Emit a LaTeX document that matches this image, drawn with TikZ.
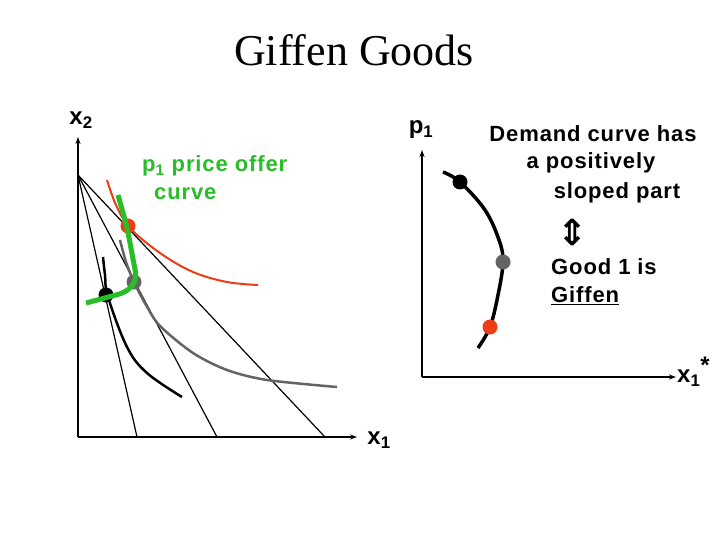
\documentclass[tikz,border=0pt]{standalone}
\usepackage{fontspec}
\setmainfont{Liberation Serif}
\setsansfont{Liberation Sans}[LetterSpace=4]
\newfontfamily\symfont{DejaVu Sans}
\usetikzlibrary{arrows.meta}
\definecolor{myred}{RGB}{240,60,20}
\definecolor{mygray}{RGB}{100,100,100}
\definecolor{mygreen}{RGB}{40,190,40}
\tikzset{
  axis/.style={line width=1.6pt,-{Stealth[length=7pt,width=5pt]}},
  budget/.style={line width=1.2pt,black},
  lbl/.style={font=\sffamily\bfseries\fontsize{22}{24}\selectfont,inner sep=0pt},
  axlbl/.style={lbl,font=\sffamily\bfseries\fontsize{24}{26}\selectfont},
  dot/.style={circle,inner sep=0pt,minimum size=15pt}
}
\begin{document}
\begin{tikzpicture}[x=1pt,y=-1pt]
\useasboundingbox (0,0) rectangle (720,540);
\fill[white] (0,0) rectangle (720,540);
% title
\node[font=\fontsize{44}{48}\selectfont,inner sep=0pt] (title) at (354,50) {Giffen Goods};
% left axes
\coordinate (o1) at (78,437);
\coordinate (y1) at (78,137);
\coordinate (x1) at (357,437);
\draw[axis] (o1) -- (y1);
\draw[axis] (o1) -- (x1);
\node[axlbl] (lx2) at (81,120) {x\textsubscript{2}};
\node[axlbl] (lx1) at (379,440) {x\textsubscript{1}};
% budget lines
\coordinate (piv) at (78,175);
\coordinate (b1) at (137,437);
\coordinate (b2) at (217,437);
\coordinate (b3) at (325,437);
\draw[budget] (piv) -- (b1);
\draw[budget] (piv) -- (b2);
\draw[budget] (piv) -- (b3);
% indifference curves
\draw[myred,line width=2pt] plot[smooth,tension=0.6] coordinates {(107,180) (116,205) (130,228) (160,253) (193,272) (227,282) (258,285)};
\draw[mygray,line width=2.5pt] plot[smooth,tension=0.5] coordinates {(120,240) (126,262) (134,282) (146,305) (160,326) (193,353) (227,370) (267,380) (337,387)};
\draw[black,line width=2.5pt] plot[smooth,tension=0.6] coordinates {(103,257) (105,275) (108,297) (127,347) (147,373) (182,397)};
% dots
\node[dot,fill=myred] (rd) at (128,226) {};
\node[dot,fill=mygray] (gd) at (134,282) {};
\node[dot,fill=black] (bd) at (106,295) {};
% price offer curve
\draw[mygreen,line width=5pt,line join=round,rounded corners=8pt] (118,195) -- (127,227) -- (137,280) -- (127,292) -- (86,303);
\node[lbl,text=mygreen,anchor=west] (poc1) at (142,166) {p\textsubscript{1} price offer};
\node[lbl,text=mygreen,anchor=west] (poc2) at (154,194) {curve};
% right axes
\coordinate (o2) at (422,377);
\coordinate (y2) at (422,150);
\coordinate (x2) at (676,377);
\draw[axis] (o2) -- (y2);
\draw[axis] (o2) -- (x2);
\node[axlbl] (lp1) at (421,130) {p\textsubscript{1}};
\node[axlbl,anchor=west] (lx1s) at (677,372) {x\textsubscript{1}\raisebox{9pt}{*}};
% demand curve
\draw[black,line width=3.5pt] plot[smooth,tension=0.6] coordinates {(443,172) (460,182) (485,210) (499,240) (503,262) (498,295) (490,327) (478,348)};
\node[dot,fill=black] (db) at (460,182) {};
\node[dot,fill=mygray] (dg) at (503,262) {};
\node[dot,fill=myred] (dr) at (490,327) {};
% text
\node[lbl] (t1) at (593,134) {Demand curve has};
\node[lbl] (t2) at (591,163) {a positively};
\node[lbl] (t3) at (617,193) {sloped part};
\node[inner sep=0pt,font=\symfont\bfseries\fontsize{36}{38}\selectfont] (arr) at (573,232) {⇕};
\node[lbl,anchor=west] (t4) at (551,267) {Good 1 is};
\node[lbl,anchor=west] (t5) at (551,296) {\underline{Giffen}};
\end{tikzpicture}
\end{document}
